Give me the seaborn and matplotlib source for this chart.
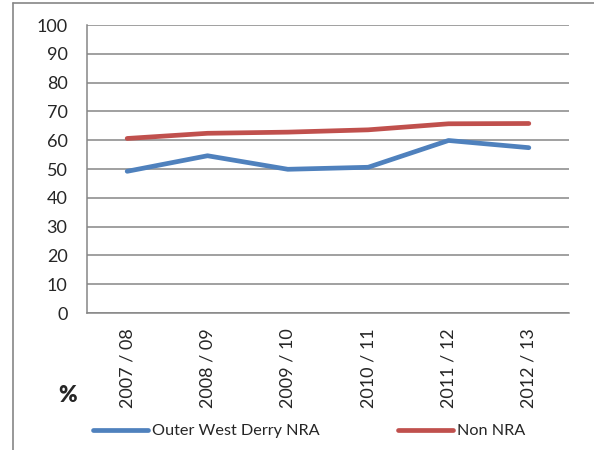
import matplotlib
matplotlib.use("Agg")
import matplotlib.pyplot as plt
import pandas as pd
import seaborn as sns

# Data
years = ["2007 / 08", "2008 / 09", "2009 / 10", "2010 / 11", "2011 / 12", "2012 / 13"]
outer_west_derry = [49.2, 54.6, 49.9, 50.6, 59.9, 57.4]
non_nra = [60.6, 62.4, 62.8, 63.6, 65.7, 65.8]
series_names = ["Outer West Derry NRA", "Non NRA"]
colors = ["#4F81BD", "#C0504D"]

df = pd.DataFrame({
    "year": years * 2,
    "value": outer_west_derry + non_nra,
    "series": [series_names[0]] * len(years) + [series_names[1]] * len(years),
})

sns.set_style("white")
plt.rcParams["font.family"] = ["Lato", "DejaVu Sans"]
grey = "#868686"

fig = plt.figure(figsize=(5.94, 4.5), dpi=100)
ax = fig.add_axes([87 / 594, 1 - 313 / 450, (569 - 87) / 594, (313 - 25) / 450])

sns.lineplot(data=df, x="year", y="value", hue="series", palette=colors,
             linewidth=3.4, sort=False, ax=ax, legend=True)
for line in ax.get_lines():
    line.set_solid_capstyle("round")

ax.set_xlim(-0.5, 5.5)
ax.set_ylim(0, 100)
ax.set_yticks(range(0, 101, 10))
ax.yaxis.grid(True, color=grey, linewidth=1.1)
ax.set_axisbelow(True)
ax.set_xlabel("")
ax.set_ylabel("")

for s in ["top", "right"]:
    ax.spines[s].set_visible(False)
for s in ["left", "bottom"]:
    ax.spines[s].set_color(grey)
    ax.spines[s].set_linewidth(1.1)

# category boundaries get the tick marks, labels sit in between
ax.set_xticks([i - 0.5 for i in range(len(years) + 1)], minor=False)
ax.set_xticklabels([])
ax.set_xticks(range(len(years)), minor=True)
ax.set_xticklabels(years, minor=True, rotation=90, fontsize=13)
ax.tick_params(axis="x", which="major", length=5, color=grey, width=1.1, direction="out")
ax.tick_params(axis="x", which="minor", length=0, pad=11)
ax.tick_params(axis="y", length=5, color=grey, width=1.1, labelsize=13, pad=9)

fig.text(68 / 594, 1 - 396 / 450, "%", fontsize=16, fontweight="heavy",
         ha="center", va="center")

handles, labels = ax.get_legend_handles_labels()
ax.get_legend().remove()
fig.legend(handles, labels, loc="center", bbox_to_anchor=(0.52, 1 - 431 / 450),
           ncol=2, frameon=False, fontsize=11.7, handlelength=3.4,
           handletextpad=0.25, columnspacing=4.8)

# outer chart border (cropped on right and bottom)
fig.add_artist(plt.Line2D([13 / 594, 13 / 594], [0, 1 - 3 / 450],
                          transform=fig.transFigure, color=grey, linewidth=1.2))
fig.add_artist(plt.Line2D([13 / 594, 1], [1 - 3 / 450, 1 - 3 / 450],
                          transform=fig.transFigure, color=grey, linewidth=1.2))

fig.savefig("out.png", dpi=100)
